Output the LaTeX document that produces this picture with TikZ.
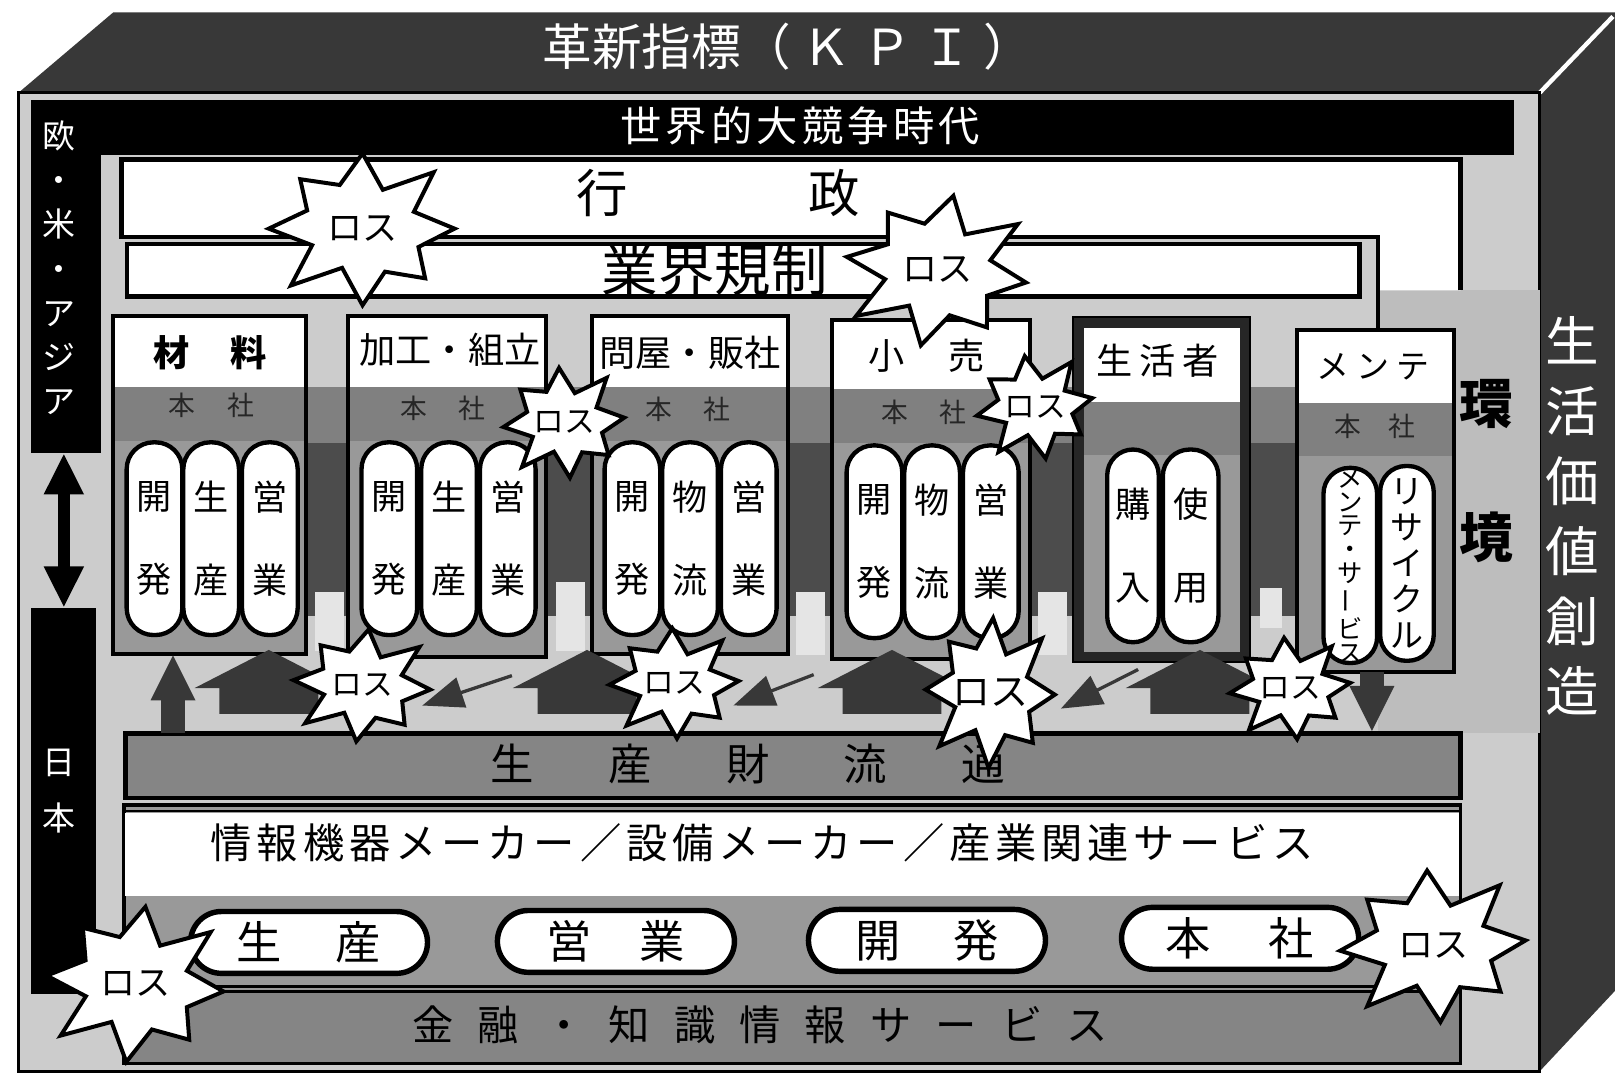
\documentclass[tikz,border=0pt]{standalone}
\usepackage{fontspec}
\usepackage{graphicx}
\setmainfont{Noto Sans CJK JP}
\usetikzlibrary{shapes.geometric,arrows.meta,fit,calc}
\definecolor{facec}{gray}{0.22}
\definecolor{frontc}{gray}{0.80}
\definecolor{bodyc}{gray}{0.60}
\definecolor{hqc}{gray}{0.50}
\definecolor{gapc}{gray}{0.30}
\definecolor{bandc}{gray}{0.52}
\definecolor{housec}{gray}{0.22}
\definecolor{midc}{gray}{0.74}
\definecolor{patchc}{gray}{0.90}

\newcommand\spreadbox[2]{\makebox[#1]{\spreadfirst#2\relax}}
\def\spreadfirst#1{#1\spreadrest}
\def\spreadrest#1{\ifx\relax#1\else\hfill#1\expandafter\spreadrest\fi}
\newcommand\fs[2]{\fontsize{#1}{#2}\selectfont}

\tikzset{
 vpill/.style={draw, line width=1.2pt, fill=white, rounded corners=0.26cm, minimum width=0.54cm, minimum height=1.87cm, inner sep=0pt, align=center, font=\fs{9.7}{23}},
 hpill/.style={draw, line width=1.5pt, fill=white, rounded corners=0.3cm, minimum width=2.3cm, minimum height=0.6cm, inner sep=0pt, font=\fs{12.5}{12.5}},
 hdrtext/.style={font=\fs{10}{10}, inner sep=0pt},
 hqtext/.style={font=\fs{7.4}{7.4}, text=black!85, inner sep=0pt},
 block/.style={inner sep=0pt, outer sep=0pt},
 smallarr/.style={draw=housec, line width=0.9pt, -{Triangle[length=0.4cm,width=0.3cm]}},
 fatarr/.style={draw=housec, line width=0.23cm, -{Triangle[length=0.45cm,width=0.4cm]}},
 dblarr/.style={draw=black, line width=0.11cm, {Triangle[length=0.4cm,width=0.36cm]}-{Triangle[length=0.4cm,width=0.36cm]}},
 starline/.style={fill=white, draw=black, line width=1.1pt, line join=miter},
}

\newcommand\colbox[6]{%
 \fill[bodyc] (#2,#3) rectangle (#4,#5);
 \fill[hqc] (#2,#6) rectangle (#4,{#6+52});
 \fill[white] (#2,#3) rectangle (#4,#6);
 \node[block, draw, line width=1.1pt, fit={(#2,#3) (#4,#5)}] (#1) {};}

% name, x, y, rx, ry, rotation, font size
\newcommand\lossstar[7]{%
 \filldraw[starline] plot[samples at={0,...,15}, variable=\k]
   ({#2+#4*(1-0.4*mod(\k,2))*(1+0.07*sin(\k*137))*cos(\k*22.5+#6)},
    {#3-#5*(1-0.4*mod(\k,2))*(1+0.07*sin(\k*137))*sin(\k*22.5+#6)}) -- cycle;
 \node[font=\fs{#7}{#7}, inner sep=0pt] (#1) at (#2,#3) {ロス};}

\begin{document}
\begin{tikzpicture}[x=0.01cm, y=-0.01cm]
\useasboundingbox (0,0) rectangle (1568,1051);
\fill[white] (0,0) rectangle (1568,1051);
% faces of the box
\fill[facec] (18,90) -- (110,12) -- (1568,12) -- (1568,962) -- (1495,1040) -- (1495,90) -- cycle;
\draw[white, line width=1.2pt] (1495,90) -- (1566,16);
\filldraw[fill=frontc, draw=black, line width=0.8pt] (18,90) rectangle (1495,1040);
\node[text=white, font=\fs{13.7}{13.7}, inner sep=0pt] (kpi) at (765,45) {\makebox[4.76cm]{革新指標（\hfill Ｋ\hfill Ｐ\hfill Ｉ\hfill ）}};
\node[text=white, font=\fs{14.8}{19.35}, align=center, inner sep=0pt] (value) at (1527,501) {生\\活\\価\\値\\創\\造};

% right mid-tone region
\fill[midc] (1338,282) rectangle (1495,712);

% black band and column
\node[block, fill=black, fit={(30,97) (1470,150)}] (worldband) {};
\node[block, fill=black, fit={(30,97) (98,440)}] (westcol) {};
\node[block, fill=black, fit={(30,590) (93,965)}] (japancol) {};
\node[text=white, font=\fs{11.4}{11.4}, inner sep=0pt] (world) at (777,122) {\spreadbox{3.49cm}{世界的大競争時代}};
\node[text=white, font=\fs{9.1}{12.2}, align=center, inner sep=0pt] (west) at (57,260) {欧\\・\\米\\・\\ア\\ジ\\ア};
\node[text=white, font=\fs{9.1}{15.6}, align=center, inner sep=0pt] (japan) at (57,768) {日\\本};
\draw[dblarr] ([xshift=-0.02cm]westcol.south) -- ([xshift=-0.02cm]westcol.south |- japancol.north);

% gyosei
\fill[white] (118,155) -- (1418,155) -- (1418,282) -- (1338,282) -- (1338,230) -- (118,230) -- cycle;
\draw[line width=1.2pt] (1418,282) -- (1418,155) -- (118,155) -- (118,230) -- (1338,230) -- (1338,320);
\node[font=\fs{14.2}{14.2}, inner sep=0pt] (gyosei) at (697,187) {\makebox[2.75cm]{行\hfill 政}};
\node[block, draw, line width=1.2pt, fill=white, fit={(123,237) (1320,288)}] (kisei) {};
\node[font=\fs{15.6}{15.6}, inner sep=0pt] (kiseit) at (694,262) {業界規制};

% middle band and gap arrows
\fill[hqc] (110,376) rectangle (1412,430);
\foreach \a/\b in {297/338,530/575,765/808,1000/1043,1213/1259} \fill[gapc] (\a,430) rectangle (\b,598);
\fill[patchc] (306,575) rectangle (334,632);
\fill[patchc] (540,565) rectangle (568,632);
\fill[patchc] (773,575) rectangle (801,636);
\fill[patchc] (1008,575) rectangle (1036,636);
\fill[patchc] (1223,571) rectangle (1245,610);

% columns
\colbox{b1}{110}{307}{297}{635}{376}
\colbox{b2}{338}{307}{530}{638}{376}
\colbox{b3}{575}{307}{765}{635}{376}
\colbox{b4}{808}{311}{1000}{640}{378}
\colbox{b5}{1043}{309}{1213}{642}{390}
\colbox{b6}{1259}{320}{1412}{652}{391}
\draw[line width=0.09cm, black!85] ([shift={(0.045cm,-0.045cm)}]b5.north west) rectangle ([shift={(-0.045cm,0.045cm)}]b5.south east);

\node[hdrtext, font=\bfseries\fs{10}{10}] (t1) at (204,342) {\spreadbox{1.09cm}{材料}};
\node[hdrtext] (t2) at (437,340) {加工・組立};
\node[hdrtext] (t3) at (670,343) {問屋・販社};
\node[hdrtext] (t4) at (900,345) {\spreadbox{1.13cm}{小売}};
\node[hdrtext] (t5) at (1124,350) {\spreadbox{1.18cm}{生活者}};
\node[hdrtext, font=\fs{9.1}{9.1}] (t6) at (1333,356) {\spreadbox{1.1cm}{メンテ}};

\node[hqtext] (h1) at (205,394) {\spreadbox{0.83cm}{本社}};
\node[hqtext] (h2) at (430,396) {\spreadbox{0.83cm}{本社}};
\node[hqtext] (h3) at (668,397) {\spreadbox{0.83cm}{本社}};
\node[hqtext] (h4) at (897,400) {\spreadbox{0.83cm}{本社}};
\node[hqtext] (h6) at (1335,414) {\spreadbox{0.79cm}{本社}};

\node[vpill] (p11) at (150,523) {開\\発};
\node[vpill] (p12) at (205,523) {生\\産};
\node[vpill] (p13) at (262,523) {営\\業};
\node[vpill] (p21) at (378,523) {開\\発};
\node[vpill] (p22) at (436,523) {生\\産};
\node[vpill] (p23) at (493,523) {営\\業};
\node[vpill] (p31) at (614,523) {開\\発};
\node[vpill] (p32) at (670,523) {物\\流};
\node[vpill] (p33) at (727,523) {営\\業};
\node[vpill] (p41) at (849,526) {開\\発};
\node[vpill] (p42) at (905,526) {物\\流};
\node[vpill] (p43) at (962,526) {営\\業};
\node[vpill, minimum width=0.5cm, rounded corners=0.25cm] (p51) at (1100,530) {購\\入};
\node[vpill, minimum width=0.54cm] (p52) at (1156,530) {使\\用};
\node[vpill, minimum width=0.52cm, minimum height=1.89cm, rounded corners=0.25cm, font=\fs{7}{6.6}] (p61) at (1311,549) {メ\\ン\\テ\\・\\サ\\\rotatebox[origin=c]{90}{ー}\\ビ\\ス};
\node[vpill, minimum width=0.52cm, minimum height=1.89cm, rounded corners=0.25cm, font=\fs{9.1}{10}] (p62) at (1366,547) {リ\\サ\\イ\\ク\\ル};

\node[font=\bfseries\fs{14.8}{37}, align=center, inner sep=0pt] (kankyo) at (1443,457) {環\\境};

% flow band
\node[block, draw, line width=1.2pt, fill=bandc, fit={(122,712) (1418,775)}] (ryutsu) {};
\node[font=\fs{12}{12}, inner sep=0pt] (ryutsut) at (726,742) {\spreadbox{5cm}{生産財流通}};

% houses and arrows
\foreach \c in {261,570,866,1165}
  \fill[housec] ({\c-72},668) -- (\c,631) -- ({\c+72},668) -- ({\c+48},668) -- ({\c+48},693) -- ({\c-48},693) -- ({\c-48},668) -- cycle;
\coordinate (upbase) at (168,712);
\draw[fatarr] (upbase) -- (upbase |- b1.south);
\coordinate (dnbase) at (1332,711);
\draw[fatarr] (dnbase |- b6.south) -- (dnbase);
\coordinate (a1s) at (497,656); \coordinate (a1e) at (410,685);
\coordinate (a2s) at (790,655); \coordinate (a2e) at (712,685);
\coordinate (a3s) at (1105,650); \coordinate (a3e) at (1030,688);
\draw[smallarr] (a1s) -- (a1e);
\draw[smallarr] (a2s) -- (a2e);
\draw[smallarr] (a3s) -- (a3e);

% lower frame
\node[block, draw, line width=1.1pt, fill=bodyc, fit={(120,782) (1418,1032)}] (lower) {};
\fill[white] (121,789) rectangle (1417,870);
\draw[line width=0.6pt] (120,787) -- (1418,787);
\fill[bandc] (121,963) rectangle (1417,1031);
\draw[line width=0.8pt] (120,958) -- (1418,958);
\draw[line width=0.8pt] (120,963) -- (1418,963);
\node[font=\fs{11.4}{11.4}, inner sep=0pt] (joho) at (740,818) {\spreadbox{10.7cm}{情報機器メーカー／設備メーカー／産業関連サービス}};
\node[hpill] (q1) at (300,915) {\spreadbox{1.4cm}{生産}};
\node[hpill] (q2) at (598,914) {\spreadbox{1.34cm}{営業}};
\node[hpill] (q3) at (900,913) {\spreadbox{1.39cm}{開発}};
\node[hpill] (q4) at (1204,911) {\spreadbox{1.44cm}{本社}};
\node[font=\fs{11.4}{11.4}, inner sep=0pt] (kinyu) at (738,995) {\spreadbox{6.75cm}{金融・知識情報サービス}};

% loss stars
\lossstar{s1}{352}{222}{92}{73}{90}{9.7}
\lossstar{s2}{910}{262}{90}{73}{80}{9.7}
\lossstar{s3}{548}{410}{60}{53}{95}{8.5}
\lossstar{s4}{1005}{395}{58}{50}{100}{8.5}
\lossstar{s5}{352}{665}{68}{54}{85}{8.5}
\lossstar{s6}{655}{663}{64}{53}{92}{8.5}
\lossstar{s7}{962}{672}{64}{72}{88}{10.5}
\lossstar{s8}{1253}{668}{60}{49}{96}{8.5}
\lossstar{s9}{132}{955}{88}{75}{84}{9.7}
\lossstar{s10}{1392}{918}{92}{73}{94}{9.7}
\end{tikzpicture}
\end{document}
